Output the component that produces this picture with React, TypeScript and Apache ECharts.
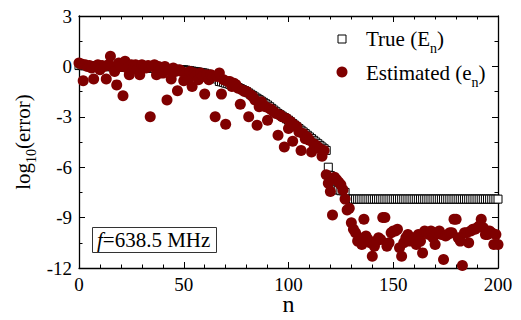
import React, { useEffect, useRef } from 'react';
import * as echarts from 'echarts';

// n = index (0..200)
const trueValues: number[] = [
  0.05, 0.05, 0.04, 0.04, 0.03, 0.03, 0.02, 0.02, 0.01, 0.01,
  0.0, 0.0, 0.0, -0.01, -0.01, -0.02, -0.02, -0.03, -0.03, -0.04,
  -0.04, -0.05, -0.05, -0.05, -0.06, -0.06, -0.07, -0.07, -0.08, -0.08,
  -0.09, -0.09, -0.1, -0.1, -0.1, -0.11, -0.11, -0.12, -0.12, -0.13,
  -0.13, -0.14, -0.14, -0.15, -0.15, -0.16, -0.17, -0.18, -0.19, -0.2,
  -0.2, -0.22, -0.24, -0.26, -0.28, -0.3, -0.32, -0.34, -0.36, -0.38,
  -0.4, -0.45, -0.5, -0.55, -0.58, -0.6, -0.75, -0.9, -0.92, -0.95,
  -1.0, -1.03, -1.07, -1.1, -1.15, -1.2, -1.26, -1.32, -1.38, -1.44,
  -1.5, -1.58, -1.66, -1.74, -1.82, -1.9, -1.98, -2.06, -2.14, -2.22,
  -2.3, -2.4, -2.5, -2.6, -2.7, -2.8, -2.88, -2.96, -3.04, -3.12,
  -3.2, -3.3, -3.4, -3.5, -3.6, -3.7, -3.8, -3.9, -4.0, -4.1,
  -4.2, -4.3, -4.4, -4.5, -4.6, -4.7, -4.8, -4.9, -5.0, -6.0,
  -6.5, -7.3, -7.3, -7.35, -7.35, -7.4, -7.4, -7.5, -7.9, -7.9,
  -7.9, -7.9, -7.9, -7.9, -7.9, -7.9, -7.9, -7.9, -7.9, -7.9,
  -7.9, -7.9, -7.9, -7.9, -7.9, -7.9, -7.9, -7.9, -7.9, -7.9,
  -7.9, -7.9, -7.9, -7.9, -7.9, -7.9, -7.9, -7.9, -7.9, -7.9,
  -7.9, -7.9, -7.9, -7.9, -7.9, -7.9, -7.9, -7.9, -7.9, -7.9,
  -7.9, -7.9, -7.9, -7.9, -7.9, -7.9, -7.9, -7.9, -7.9, -7.9,
  -7.9, -7.9, -7.9, -7.9, -7.9, -7.9, -7.9, -7.9, -7.9, -7.9,
  -7.9, -7.9, -7.9, -7.9, -7.9, -7.9, -7.9, -7.9, -7.9, -7.9,
  -7.9,
];

const estimatedValues: number[] = [
  0.2, 0.15, -0.85, 0.1, 0.0, 0.05, -0.1, -0.75, 0.0, 0.1,
  -0.2, 0.05, 0.0, -0.75, 0.1, 0.6, 0.0, -0.3, -1.1, 0.2,
  0.0, -1.75, 0.3, -0.1, -0.5, 0.1, 0.0, 0.1, -0.2, -0.5,
  0.1, 0.0, -0.1, 0.05, -3.0, 0.0, 0.1, -0.5, 0.0, -0.1,
  -0.4, 0.0, -2.0, -0.2, -0.75, -0.1, -0.3, -1.45, -0.2, -0.3,
  -0.85, -0.4, -0.8, -0.3, -1.2, -0.4, -0.5, -0.8, -0.4, -0.6,
  -1.65, -0.5, -0.8, -0.5, -0.6, -3.0, -0.6, -0.4, -1.65, -0.8,
  -3.45, -0.9, -0.9, -1.2, -1.0, -1.1, -1.3, -2.25, -1.4, -1.5,
  -1.5, -3.0, -1.7, -1.8, -2.0, -3.5, -2.4, -2.1, -2.3, -2.4,
  -3.2, -2.5, -2.6, -2.7, -2.8, -4.1, -2.9, -3.0, -4.8, -3.1,
  -3.7, -3.3, -4.45, -3.5, -3.6, -3.9, -5.0, -4.0, -4.3, -4.2,
  -4.4, -5.1, -4.6, -4.7, -4.8, -4.9, -5.35, -5.0, -6.45, -6.95,
  -7.45, -8.85, -6.6, -6.75, -6.9, -7.05, -7.35, -7.9, -8.55, -8.45,
  -9.3, -9.7, -9.9, -10.4, -10.2, -10.6, -9.1, -10.1, -10.3, -10.5,
  -11.3, -10.7, -10.4, -10.2, -10.3, -9.0, -9.0, -10.7, -10.5, -9.9,
  -9.8, -9.8, -9.7, -10.8, -11.3, -10.5, -10.2, -10.0, -10.4, -10.3,
  -10.2, -10.6, -10.0, -10.4, -11.1, -9.8, -9.9, -10.0, -9.8, -10.2,
  -10.6, -9.9, -9.8, -10.0, -11.5, -10.1, -10.0, -9.9, -9.9, -9.1,
  -9.1, -10.2, -10.4, -11.85, -9.9, -9.9, -10.5, -9.8, -9.7, -9.7,
  -9.6, -9.5, -9.1, -9.6, -10.0, -10.0, -9.8, -9.9, -10.6, -10.0,
  -10.6,
];

const xTicks = { min: 0, max: 200, interval: 50 };
const yTicks = { min: -12, max: 3, interval: 3 };

const FONT = 'Liberation Serif';
const RED = '#7f0000';

export default function App() {
  const ref = useRef<HTMLDivElement>(null);
  useEffect(() => {
    document.body.style.margin = '0';
    const chart = echarts.init(ref.current!, null, { renderer: 'svg' });
    const axisLine = { show: true, onZero: false, lineStyle: { color: '#000', width: 1.3 } };
    const tick = { show: true, inside: true, length: 6, lineStyle: { color: '#000', width: 1 } };
    const xMinor = { show: true, splitNumber: 5, length: 3.5, lineStyle: { color: '#000', width: 1 } };
    const yMinor = { show: true, splitNumber: 2, length: 3.5, lineStyle: { color: '#000', width: 1 } };
    const labelStyle = { color: '#000', fontFamily: FONT, fontSize: 19 };
    chart.setOption({
      animation: false,
      backgroundColor: '#fff',
      textStyle: { fontFamily: FONT },
      grid: { left: 79, right: 23, top: 16, bottom: 52, containLabel: false, outerBoundsMode: 'none' },
      xAxis: [
        {
          type: 'value', position: 'bottom', ...xTicks,
          axisLine, axisTick: tick, minorTick: xMinor,
          splitLine: { show: false },
          axisLabel: { ...labelStyle, margin: 7 },
          name: 'n', nameLocation: 'middle', nameGap: 24, nameMoveOverlap: false,
          nameTextStyle: { color: '#000', fontFamily: FONT, fontSize: 24 },
        },
        {
          type: 'value', position: 'top', ...xTicks,
          axisLine, axisTick: tick, minorTick: xMinor,
          splitLine: { show: false }, axisLabel: { show: false },
        },
      ],
      yAxis: [
        {
          type: 'value', position: 'left', ...yTicks,
          axisLine, axisTick: tick, minorTick: yMinor,
          splitLine: { show: false },
          axisLabel: { ...labelStyle, margin: 7 },
          name: '{a|log}{s|10}{a|(error)}', nameLocation: 'middle', nameGap: 41, nameMoveOverlap: false,
          nameTextStyle: {
            color: '#000', fontFamily: FONT, fontSize: 21,
            rich: {
              a: { color: '#000', fontFamily: FONT, fontSize: 21, lineHeight: 30, verticalAlign: 'middle' },
              s: { color: '#000', fontFamily: FONT, fontSize: 14, lineHeight: 14, verticalAlign: 'bottom' },
            },
          },
        },
        {
          type: 'value', position: 'right', ...yTicks,
          axisLine, axisTick: tick, minorTick: yMinor,
          splitLine: { show: false }, axisLabel: { show: false },
        },
      ],
      series: [
        {
          name: 'True (En)', type: 'scatter', xAxisIndex: 0, yAxisIndex: 0,
          symbol: 'rect', symbolSize: 8, clip: false,
          itemStyle: { color: '#fff', borderColor: '#000', borderWidth: 1, opacity: 1 },
          data: trueValues.map((v, i) => [i, v]),
          z: 2,
        },
        {
          name: 'Estimated (en)', type: 'scatter', xAxisIndex: 0, yAxisIndex: 0,
          symbol: 'circle', symbolSize: 11, clip: false,
          itemStyle: { color: RED, opacity: 1 },
          data: estimatedValues.map((v, i) => [i, v]),
          z: 3,
        },
      ],
      graphic: [
        { type: 'rect', shape: { x: 338, y: 35, width: 8, height: 8 }, style: { fill: '#fff', stroke: '#000', lineWidth: 1 } },
        { type: 'circle', shape: { cx: 342, cy: 72, r: 5.5 }, style: { fill: RED } },
        {
          type: 'text', x: 366, y: 39,
          style: {
            text: '{a|True (E}{s|n}{a|)}', verticalAlign: 'middle', align: 'left',
            rich: {
              a: { fill: '#000', fontFamily: FONT, fontSize: 21, lineHeight: 33, verticalAlign: 'middle' },
              s: { fill: '#000', fontFamily: FONT, fontSize: 14, lineHeight: 14, verticalAlign: 'bottom' },
            },
          },
        },
        {
          type: 'text', x: 366, y: 73,
          style: {
            text: '{a|Estimated (e}{s|n}{a|)}', verticalAlign: 'middle', align: 'left',
            rich: {
              a: { fill: '#000', fontFamily: FONT, fontSize: 21, lineHeight: 33, verticalAlign: 'middle' },
              s: { fill: '#000', fontFamily: FONT, fontSize: 14, lineHeight: 14, verticalAlign: 'bottom' },
            },
          },
        },
        { type: 'rect', shape: { x: 92.5, y: 227.5, width: 124, height: 25 }, style: { fill: '#fff', stroke: '#333', lineWidth: 1 } },
        {
          type: 'text', x: 97, y: 240,
          style: {
            text: '{i|f}{a|=638.5 MHz}', verticalAlign: 'middle', align: 'left',
            rich: {
              i: { fill: '#000', fontFamily: FONT, fontSize: 21, fontStyle: 'italic' },
              a: { fill: '#000', fontFamily: FONT, fontSize: 21 },
            },
          },
        },
      ],
    });
    return () => chart.dispose();
  }, []);
  return <div ref={ref} style={{ width: 521, height: 320 }} />;
}
